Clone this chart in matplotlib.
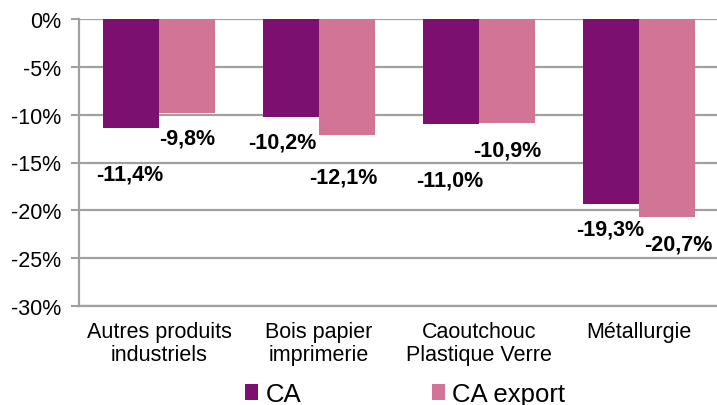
import numpy as np
import matplotlib.pyplot as plt
from matplotlib.ticker import FuncFormatter

plt.rcParams['font.family'] = ['Liberation Sans', 'DejaVu Sans']

categories = ['Autres produits\nindustriels', 'Bois papier\nimprimerie',
              'Caoutchouc\nPlastique Verre', 'Métallurgie']
ca = [-11.4, -10.2, -11.0, -19.3]
ca_export = [-9.8, -12.1, -10.9, -20.7]

# label offsets below bar end (pixels), as placed by hand in the original
ca_dx = [-1, -9, -1, -1]
ca_dy = [46, 25, 56, 25]
exp_dx = [0, -4, 0, 11]
exp_dy = [25, 42, 27, 27]

col_ca = '#7B1070'
col_exp = '#D17496'
gris = '#A0A0A0'

fig = plt.figure(figsize=(7.17, 4.06), dpi=100)
ax = fig.add_axes([79/717, 1-307/406, 640/717, 287/406])

x = np.arange(len(categories))
w = 0.35
b1 = ax.bar(x - w/2, ca, w, color=col_ca, label='CA', zorder=3)
b2 = ax.bar(x + w/2, ca_export, w, color=col_exp, label='CA export', zorder=3)

def fmt(v):
    return '{:.1f}%'.format(v).replace('.', ',')

for i in range(len(x)):
    ax.annotate(fmt(ca[i]), (x[i] - w/2, ca[i]), xytext=(ca_dx[i], -ca_dy[i]),
                textcoords='offset pixels', ha='center', va='center',
                fontsize=15.5, fontweight='bold', zorder=5)
    ax.annotate(fmt(ca_export[i]), (x[i] + w/2, ca_export[i]), xytext=(exp_dx[i], -exp_dy[i]),
                textcoords='offset pixels', ha='center', va='center',
                fontsize=15.5, fontweight='bold', zorder=5, annotation_clip=False)

ax.set_xlim(-0.5, 3.5)
ax.set_ylim(-30, 0)
ax.set_yticks(np.arange(-30, 1, 5))
ax.yaxis.set_major_formatter(FuncFormatter(lambda v, p: '{:.0f}%'.format(v) if v != 0 else '0%'))
ax.set_xticks(x)
ax.set_xticklabels(categories, fontsize=15.5, linespacing=1.1)
ax.tick_params(axis='x', length=0, pad=11)
ax.tick_params(axis='y', labelsize=15.5, length=6, width=1.5, color=gris, pad=7)

ax.grid(axis='y', color=gris, linewidth=1.6, zorder=0)
for s in ['top', 'right']:
    ax.spines[s].set_visible(False)
for s in ['left', 'bottom']:
    ax.spines[s].set_color(gris)
    ax.spines[s].set_linewidth(1.6)

fig.legend(handles=[b1, b2], loc='lower center', bbox_to_anchor=(0.565, -0.06),
           ncol=2, frameon=False, fontsize=18.5, handlelength=0.5, handleheight=0.6,
           handletextpad=0.3, columnspacing=5.1)

plt.savefig('out.png', dpi=100)
